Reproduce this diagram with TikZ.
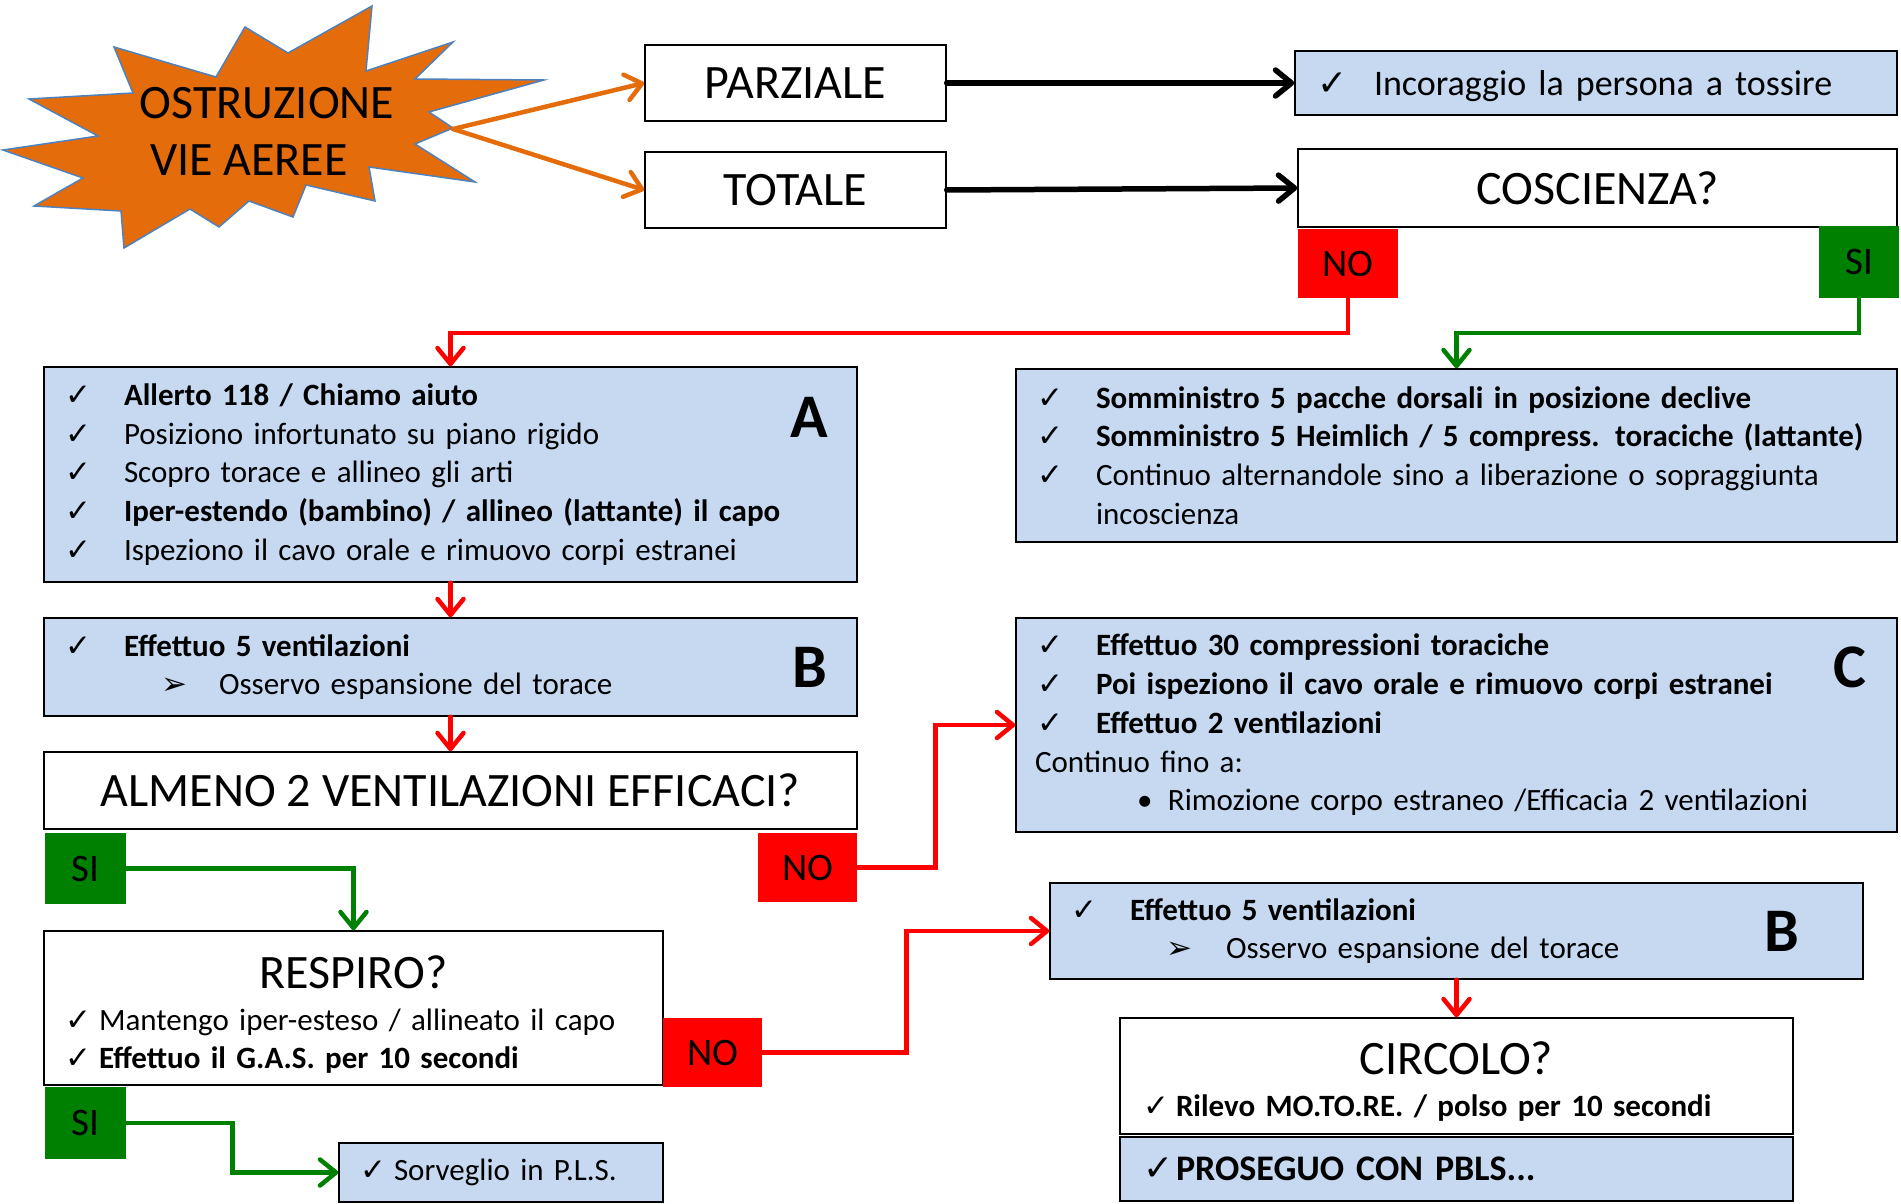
\documentclass[tikz,border=0pt]{standalone}
\usepackage{fontspec}
\setmainfont{Carlito}
\newfontfamily\symfont{DejaVu Sans}
\usetikzlibrary{positioning, arrows.meta}

\definecolor{boxblue}{HTML}{C6D9F1}
\definecolor{burstorange}{HTML}{E46C0A}
\definecolor{burstline}{HTML}{4F81BD}
\definecolor{sigreen}{HTML}{008000}

\newcommand{\chk}[1][59pt]{\makebox[#1][l]{{\symfont ✓}}}
\newcommand{\pnt}[1][58pt]{\makebox[#1][l]{{\symfont ➢}}}

\tikzset{
  plain/.style={draw, line width=1.5pt, inner sep=0pt, font=\fontsize{48}{57}\selectfont},
  info/.style={draw, line width=1.5pt, fill=boxblue, inner xsep=21pt, inner ysep=0pt,
    align=left, font=\fontsize{31}{38.7}\selectfont},
  quest/.style={info, fill=white},
  tag/.style={inner sep=0pt, font=\fontsize{39}{40}\selectfont},
  tagno/.style={tag, fill=red},
  tagsi/.style={tag, fill=sigreen},
  letter/.style={font=\fontsize{62}{62}\selectfont\bfseries},
  tip/.style={-{Straight Barb[length=16pt,width=26pt,round]}, line cap=round},
  redarr/.style={tip, draw=red, line width=4.5pt},
  greenarr/.style={tip, draw=sigreen, line width=4.5pt},
  blackarr/.style={tip, draw=black, line width=5.5pt},
  orangearr/.style={tip, draw=burstorange, line width=4.5pt}
}

\begin{document}
\begin{tikzpicture}[x=1pt, y=-1pt]
\useasboundingbox (0,0) rectangle (1901,1204);

\filldraw[fill=burstorange, draw=burstline, line width=1.5pt]
  (372,6) -- (288,53) -- (245,27) -- (216,77) -- (114,47) -- (133,93) -- (29,99)
  -- (98,136) -- (3,150) -- (83,178) -- (34,206) -- (121,211) -- (124,248)
  -- (190,209) -- (219,227) -- (249,201) -- (293,217) -- (306,185) -- (375,201)
  -- (369,167) -- (475,182) -- (415,144) -- (453,128) -- (429,112) -- (544,80)
  -- (415,79) -- (453,42) -- (366,71) -- cycle;
\node[align=center, font=\fontsize{48}{57}\selectfont] (ostr) at (267,131) {OSTRUZIONE\\VIE AEREE\hspace*{36pt}};
\coordinate (burst) at (453,129);

\node[plain, minimum width=301pt, minimum height=76pt] (parz) at (795.5,83) {PARZIALE};
\node[plain, minimum width=301pt, minimum height=76pt] (tot) at (795.5,190) {TOTALE};
\node[info, inner xsep=22pt, text width=558pt, minimum height=64pt, text depth=0pt, font=\fontsize{36}{40}\selectfont]
  (incor) at (1596,83) {\chk[57pt]Incoraggio la persona a tossire};
\node[plain, minimum width=599pt, minimum height=78pt] (cosc) at (1597.5,188) {COSCIENZA?};
\node[tagno, minimum width=100pt, minimum height=69pt] (no1) at (1348,263.5) {NO};
\node[tagsi, minimum width=80pt, minimum height=72pt] (si1) at (1859,262) {SI};

\node[info, text width=771pt, minimum height=215pt] (boxA) at (450.5,474.5)
  {\chk\textbf{Allerto 118 / Chiamo aiuto}\\
   \chk Posiziono infortunato su piano rigido\\
   \chk Scopro torace e allineo gli arti\\
   \chk\textbf{Iper-estendo (bambino) / allineo (lattante) il capo}\\
   \chk Ispeziono il cavo orale e rimuovo corpi estranei};
\node[letter] (la) at ([shift={(-48,51)}]boxA.north east) {A};

\node[info, text width=839pt, minimum height=173pt] (somm) at (1456.5,455.5)
  {\chk\textbf{Somministro 5 pacche dorsali in posizione declive}\\
   \chk\textbf{Somministro 5 Heimlich / 5 compress. toraciche (lattante)}\\
   \chk Continuo alternandole sino a liberazione o sopraggiunta\\
   \hspace*{59pt}incoscienza};

\node[info, text width=771pt, minimum height=98pt] (boxB) at (450.5,667)
  {\chk\textbf{Effettuo 5 ventilazioni}\\
   \hspace*{96pt}\pnt Osservo espansione del torace};
\node[letter] (lb) at ([xshift=-48pt]boxB.east) {B};

\node[info, text width=839pt, minimum height=214pt] (boxC) at (1456.5,725)
  {\chk\textbf{Effettuo 30 compressioni toraciche}\\
   \chk\textbf{Poi ispeziono il cavo orale e rimuovo corpi estranei}\\
   \chk\textbf{Effettuo 2 ventilazioni}\\
   \hspace*{-2pt}Continuo fino a:\\
   \hspace*{100pt}\makebox[31pt][l]{\textbullet}Rimozione corpo estraneo /Efficacia 2 ventilazioni};
\node[letter] (lc) at ([shift={(-48,50)}]boxC.north east) {C};

\node[plain, minimum width=813pt, minimum height=77pt] (almeno) at (450.5,790.5) {ALMENO 2 VENTILAZIONI EFFICACI?};
\node[tagsi, minimum width=81pt, minimum height=71pt] (si2) at (85.5,868.5) {SI};
\node[tagno, minimum width=99pt, minimum height=69pt] (no2) at (807.5,867.5) {NO};

\node[quest, text width=577pt, minimum height=154pt] (resp) at (353.5,1008)
  {\makebox[577pt][c]{\fontsize{48}{57}\selectfont\rule{0pt}{46pt}RESPIRO?}\\[3pt]
   \chk[34pt]Mantengo iper-esteso / allineato il capo\\
   \chk[34pt]\textbf{Effettuo il G.A.S. per 10 secondi}};
\node[tagno, minimum width=99pt, minimum height=69pt] (no3) at (712.5,1052.5) {NO};
\node[tagsi, minimum width=81pt, minimum height=72pt] (si3) at (85.5,1123) {SI};
\node[info, text width=282pt, minimum height=59pt]
  (sorv) at (501,1172.5) {\chk[34pt]Sorveglio in P.L.S.};

\node[info, text width=771pt, minimum height=96pt] (boxB2) at (1456.5,931)
  {\chk\textbf{Effettuo 5 ventilazioni}\\
   \hspace*{95pt}\pnt[60pt]Osservo espansione del torace};
\node[letter] (lb2) at ([xshift=-82pt]boxB2.east) {B};

\node[quest, inner xsep=23pt, text width=627pt, minimum height=116pt] (circ) at (1456.5,1076)
  {\makebox[627pt][c]{\fontsize{48}{57}\selectfont\rule{0pt}{44pt}CIRCOLO?}\\[4pt]
   \chk[33pt]\textbf{Rilevo MO.TO.RE. / polso per 10 secondi}};
\node[info, inner xsep=23pt, text width=627pt, minimum height=64pt, font=\fontsize{36}{40}\selectfont\bfseries]
  (proseg) at (1456.5,1169) {\chk[33pt]PROSEGUO CON PBLS...};

\draw[orangearr] (burst) -- (parz.west);
\draw[orangearr] (burst) -- (tot.west);
\draw[blackarr] (parz) -- (incor);
\draw[blackarr] (tot.east) -- (cosc.west);
\draw[redarr] (no1.south) -- ++(0,35) -| (boxA.north);
\draw[greenarr] (si1.south) -- ++(0,35) -| (somm.north);
\draw[redarr] (boxA) -- (boxB);
\draw[redarr] (boxB) -- (almeno);
\draw[greenarr] (si2.east) -| (resp.north);
\draw[redarr] (no2.east) -| ([xshift=-80pt]boxC.west) -- (boxC.west);
\draw[redarr] (no3.east) -| ([xshift=-143pt]boxB2.west) -- (boxB2.west);
\draw[redarr] (boxB2) -- (circ);
\draw[greenarr] (si3.east) -| ([xshift=-106pt]sorv.west) -- (sorv.west);
\end{tikzpicture}
\end{document}
